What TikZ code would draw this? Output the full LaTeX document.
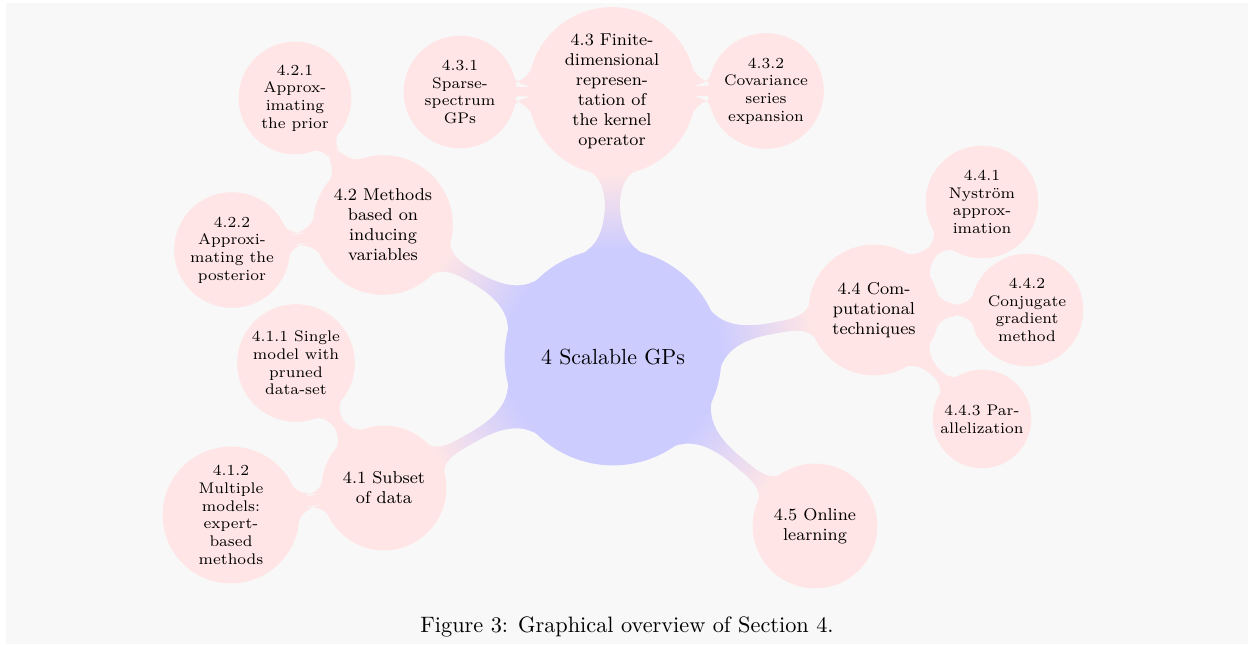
\documentclass[tikz,border=0pt]{standalone}
\usetikzlibrary{mindmap}

\definecolor{pagegray}{RGB}{248,248,248}

\tikzset{
  gp root/.style={concept, concept color=blue!20, minimum size=96pt, inner sep=1pt,
    text width=, align=center, font=\fontsize{9.8}{11.8}\selectfont},
  gp sec/.style={concept, concept color=red!10, minimum size=54.7pt, inner sep=1pt,
    text width=, align=center, font=\fontsize{7.7}{8.97}\selectfont},
  gp sub/.style={concept, concept color=red!10, minimum size=49.3pt, inner sep=1pt,
    text width=, align=center, font=\fontsize{6.9}{7.94}\selectfont},
  to sec/.style={circle connection bar switch color=from (blue!20) to (red!10)},
  to sub/.style={circle connection bar switch color=from (red!10) to (red!10)}
}

\begin{document}
\begin{tikzpicture}[mindmap, x=0.4484pt, y=-0.4484pt]
\useasboundingbox (0,0) rectangle (1248,644);

%page
\fill[pagegray] (6,3) rectangle (1248,644);

%root
\node[gp root] (gp) at (613,357) {4 Scalable GPs};

%sections
\node[gp sec, minimum size=74pt] (s43) at (612,91) {4.3 Finite-\\dimensional\\represen-\\tation of\\the kernel\\operator};
\node[gp sec, minimum size=61.4pt] (s42) at (383,225) {4.2 Methods\\based on\\inducing\\variables};
\node[gp sec] (s41) at (384,488) {4.1 Subset\\of data};
\node[gp sec, minimum size=57.4pt] (s44) at (874,310) {4.4 Com-\\putational\\techniques};
\node[gp sec] (s45) at (815,526) {4.5 Online\\learning};

%subsections
\node[gp sub] (s411) at (296,363) {4.1.1 Single\\model with\\pruned\\data-set};
\node[gp sub, minimum size=60.1pt] (s412) at (231,515) {4.1.2\\Multiple\\models:\\expert-\\based\\methods};
\node[gp sub] (s421) at (295,98) {4.2.1\\Approx-\\imating\\the prior};
\node[gp sub] (s422) at (232,250) {4.2.2\\Approxi-\\mating the\\posterior};
\node[gp sub] (s431) at (460,92) {4.3.1\\Sparse-\\spectrum\\GPs};
\node[gp sub] (s432) at (766,91) {4.3.2\\Covariance\\series\\expansion};
\node[gp sub] (s441) at (982,202) {4.4.1\\Nystr\"om\\approx-\\imation};
\node[gp sub] (s442) at (1027,310) {4.4.2\\Conjugate\\gradient\\method};
\node[gp sub, minimum size=43pt] (s443) at (982,419) {4.4.3 Par-\\allelization};

%bars
\foreach \s in {s41,s42,s43,s44,s45}
  \path (gp) to[to sec] (\s);
\foreach \a/\b in {s41/s411,s41/s412,s42/s421,s42/s422,s43/s431,s43/s432,s44/s441,s44/s442,s44/s443}
  \path (\a) to[to sub] (\b);

%caption
\node[anchor=base, text width=, font=\normalsize] (cap) at (627,632) {Figure 3: Graphical overview of Section 4.};

\end{tikzpicture}
\end{document}
